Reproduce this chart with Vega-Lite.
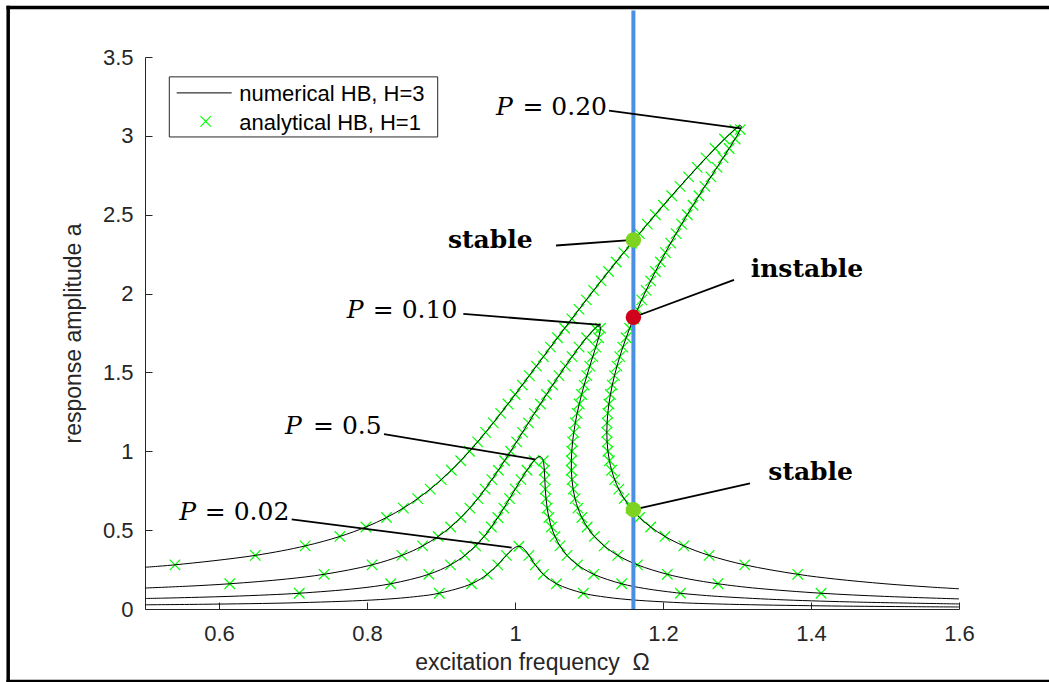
{
  "$schema": "https://vega.github.io/schema/vega-lite/v6.json",
  "width": 814,
  "height": 552,
  "autosize": {"type": "none"},
  "padding": {"left": 145, "top": 57, "right": 90, "bottom": 73},
  "background": "white",
  "config": {"view": {"stroke": null}, "font": "Liberation Sans"},
  "datasets": {
    "frame": [
      {"x1":0.31513,"x2":0.31513,"y1":-0.459,"y2":3.814},
      {"x1":0.31513,"x2":1.8,"y1":3.814,"y2":3.814},
      {"x1":0.31513,"x2":1.8,"y1":-0.459,"y2":-0.459}
    ],
    "boxes": [
      {"kind":"legend","x1":0.53284,"x2":0.89554,"y1":2.993,"y2":3.374}
    ],
    "curves": [
      {"curve":"0.02","order":1,"omega":0.5,"amp":0.02665,"marker":0},
      {"curve":"0.02","order":2,"omega":0.57796,"amp":0.03,"marker":0},
      {"curve":"0.02","order":3,"omega":0.70808,"amp":0.04,"marker":0},
      {"curve":"0.02","order":4,"omega":0.8182,"amp":0.06,"marker":0},
      {"curve":"0.02","order":5,"omega":0.86849,"amp":0.08,"marker":0},
      {"curve":"0.02","order":6,"omega":0.89769,"amp":0.1,"marker":1},
      {"curve":"0.02","order":7,"omega":0.94134,"amp":0.16,"marker":1},
      {"curve":"0.02","order":8,"omega":0.96255,"amp":0.22,"marker":1},
      {"curve":"0.02","order":9,"omega":0.9766,"amp":0.28,"marker":1},
      {"curve":"0.02","order":10,"omega":0.98831,"amp":0.34,"marker":1},
      {"curve":"0.02","order":11,"omega":0.99452,"amp":0.37,"marker":0},
      {"curve":"0.02","order":12,"omega":0.99837,"amp":0.385,"marker":0},
      {"curve":"0.02","order":13,"omega":1.00222,"amp":0.395,"marker":0},
      {"curve":"0.02","order":14,"omega":1.00529,"amp":0.39775,"marker":1},
      {"curve":"0.02","order":15,"omega":1.0082,"amp":0.395,"marker":0},
      {"curve":"0.02","order":16,"omega":1.01143,"amp":0.385,"marker":0},
      {"curve":"0.02","order":17,"omega":1.01438,"amp":0.37,"marker":0},
      {"curve":"0.02","order":18,"omega":1.01886,"amp":0.34,"marker":1},
      {"curve":"0.02","order":19,"omega":1.02738,"amp":0.28,"marker":1},
      {"curve":"0.02","order":20,"omega":1.03839,"amp":0.22,"marker":1},
      {"curve":"0.02","order":21,"omega":1.05604,"amp":0.16,"marker":1},
      {"curve":"0.02","order":22,"omega":1.09231,"amp":0.1,"marker":1},
      {"curve":"0.02","order":23,"omega":1.11543,"amp":0.08,"marker":0},
      {"curve":"0.02","order":24,"omega":1.15264,"amp":0.06,"marker":0},
      {"curve":"0.02","order":25,"omega":1.22326,"amp":0.04,"marker":0},
      {"curve":"0.02","order":26,"omega":1.28981,"amp":0.03,"marker":0},
      {"curve":"0.02","order":27,"omega":1.41334,"amp":0.02,"marker":0},
      {"curve":"0.02","order":28,"omega":1.52681,"amp":0.015,"marker":0},
      {"curve":"0.02","order":29,"omega":1.6,"amp":0.0128,"marker":0},

      {"curve":"0.05","order":1,"omega":0.5,"amp":0.0666,"marker":0},
      {"curve":"0.05","order":2,"omega":0.53534,"amp":0.07,"marker":0},
      {"curve":"0.05","order":3,"omega":0.61338,"amp":0.08,"marker":0},
      {"curve":"0.05","order":4,"omega":0.66788,"amp":0.09,"marker":0},
      {"curve":"0.05","order":5,"omega":0.70852,"amp":0.1,"marker":1},
      {"curve":"0.05","order":6,"omega":0.78655,"amp":0.13,"marker":0},
      {"curve":"0.05","order":7,"omega":0.83199,"amp":0.16,"marker":1},
      {"curve":"0.05","order":8,"omega":0.88357,"amp":0.22,"marker":1},
      {"curve":"0.05","order":9,"omega":0.91282,"amp":0.28,"marker":1},
      {"curve":"0.05","order":10,"omega":0.93231,"amp":0.34,"marker":1},
      {"curve":"0.05","order":11,"omega":0.94674,"amp":0.4,"marker":1},
      {"curve":"0.05","order":12,"omega":0.95828,"amp":0.46,"marker":1},
      {"curve":"0.05","order":13,"omega":0.96809,"amp":0.52,"marker":1},
      {"curve":"0.05","order":14,"omega":0.97683,"amp":0.58,"marker":1},
      {"curve":"0.05","order":15,"omega":0.98492,"amp":0.64,"marker":1},
      {"curve":"0.05","order":16,"omega":0.99266,"amp":0.7,"marker":1},
      {"curve":"0.05","order":17,"omega":1.00029,"amp":0.76,"marker":1},
      {"curve":"0.05","order":18,"omega":1.00802,"amp":0.82,"marker":1},
      {"curve":"0.05","order":19,"omega":1.01619,"amp":0.88,"marker":1},
      {"curve":"0.05","order":20,"omega":1.02575,"amp":0.94,"marker":1},
      {"curve":"0.05","order":21,"omega":1.02892,"amp":0.955,"marker":0},
      {"curve":"0.05","order":22,"omega":1.03387,"amp":0.967,"marker":0},
      {"curve":"0.05","order":23,"omega":1.03712,"amp":0.955,"marker":0},
      {"curve":"0.05","order":24,"omega":1.03821,"amp":0.94,"marker":1},
      {"curve":"0.05","order":25,"omega":1.03972,"amp":0.88,"marker":1},
      {"curve":"0.05","order":26,"omega":1.04031,"amp":0.82,"marker":1},
      {"curve":"0.05","order":27,"omega":1.04094,"amp":0.76,"marker":1},
      {"curve":"0.05","order":28,"omega":1.04193,"amp":0.7,"marker":1},
      {"curve":"0.05","order":29,"omega":1.04349,"amp":0.64,"marker":1},
      {"curve":"0.05","order":30,"omega":1.04583,"amp":0.58,"marker":1},
      {"curve":"0.05","order":31,"omega":1.04922,"amp":0.52,"marker":1},
      {"curve":"0.05","order":32,"omega":1.05401,"amp":0.46,"marker":1},
      {"curve":"0.05","order":33,"omega":1.06075,"amp":0.4,"marker":1},
      {"curve":"0.05","order":34,"omega":1.07035,"amp":0.34,"marker":1},
      {"curve":"0.05","order":35,"omega":1.08445,"amp":0.28,"marker":1},
      {"curve":"0.05","order":36,"omega":1.10638,"amp":0.22,"marker":1},
      {"curve":"0.05","order":37,"omega":1.14418,"amp":0.16,"marker":1},
      {"curve":"0.05","order":38,"omega":1.17532,"amp":0.13,"marker":0},
      {"curve":"0.05","order":39,"omega":1.22352,"amp":0.1,"marker":1},
      {"curve":"0.05","order":40,"omega":1.24606,"amp":0.09,"marker":0},
      {"curve":"0.05","order":41,"omega":1.27367,"amp":0.08,"marker":0},
      {"curve":"0.05","order":42,"omega":1.35309,"amp":0.06,"marker":0},
      {"curve":"0.05","order":43,"omega":1.4522,"amp":0.045,"marker":0},
      {"curve":"0.05","order":44,"omega":1.6,"amp":0.032,"marker":0},

      {"curve":"0.10","order":1,"omega":0.5,"amp":0.133,"marker":0},
      {"curve":"0.10","order":2,"omega":0.55901,"amp":0.145,"marker":0},
      {"curve":"0.10","order":3,"omega":0.61455,"amp":0.16,"marker":1},
      {"curve":"0.10","order":4,"omega":0.69103,"amp":0.19,"marker":0},
      {"curve":"0.10","order":5,"omega":0.74202,"amp":0.22,"marker":1},
      {"curve":"0.10","order":6,"omega":0.80686,"amp":0.28,"marker":1},
      {"curve":"0.10","order":7,"omega":0.84712,"amp":0.34,"marker":1},
      {"curve":"0.10","order":8,"omega":0.87513,"amp":0.4,"marker":1},
      {"curve":"0.10","order":9,"omega":0.89618,"amp":0.46,"marker":1},
      {"curve":"0.10","order":10,"omega":0.91295,"amp":0.52,"marker":1},
      {"curve":"0.10","order":11,"omega":0.92691,"amp":0.58,"marker":1},
      {"curve":"0.10","order":12,"omega":0.93898,"amp":0.64,"marker":1},
      {"curve":"0.10","order":13,"omega":0.94975,"amp":0.7,"marker":1},
      {"curve":"0.10","order":14,"omega":0.95958,"amp":0.76,"marker":1},
      {"curve":"0.10","order":15,"omega":0.96877,"amp":0.82,"marker":1},
      {"curve":"0.10","order":16,"omega":0.97749,"amp":0.88,"marker":1},
      {"curve":"0.10","order":17,"omega":0.9859,"amp":0.94,"marker":1},
      {"curve":"0.10","order":18,"omega":0.9941,"amp":1.0,"marker":1},
      {"curve":"0.10","order":19,"omega":1.00217,"amp":1.06,"marker":1},
      {"curve":"0.10","order":20,"omega":1.01017,"amp":1.12,"marker":1},
      {"curve":"0.10","order":21,"omega":1.01817,"amp":1.18,"marker":1},
      {"curve":"0.10","order":22,"omega":1.02621,"amp":1.24,"marker":1},
      {"curve":"0.10","order":23,"omega":1.03431,"amp":1.3,"marker":1},
      {"curve":"0.10","order":24,"omega":1.04253,"amp":1.36,"marker":1},
      {"curve":"0.10","order":25,"omega":1.05088,"amp":1.42,"marker":1},
      {"curve":"0.10","order":26,"omega":1.0594,"amp":1.48,"marker":1},
      {"curve":"0.10","order":27,"omega":1.06815,"amp":1.54,"marker":1},
      {"curve":"0.10","order":28,"omega":1.07717,"amp":1.6,"marker":1},
      {"curve":"0.10","order":29,"omega":1.08657,"amp":1.66,"marker":1},
      {"curve":"0.10","order":30,"omega":1.09661,"amp":1.72,"marker":1},
      {"curve":"0.10","order":31,"omega":1.10833,"amp":1.78,"marker":1},
      {"curve":"0.10","order":32,"omega":1.11103,"amp":1.79,"marker":0},
      {"curve":"0.10","order":33,"omega":1.11377,"amp":1.7953,"marker":0},
      {"curve":"0.10","order":34,"omega":1.11523,"amp":1.79,"marker":0},
      {"curve":"0.10","order":35,"omega":1.11551,"amp":1.78,"marker":1},
      {"curve":"0.10","order":36,"omega":1.11298,"amp":1.72,"marker":1},
      {"curve":"0.10","order":37,"omega":1.10914,"amp":1.66,"marker":1},
      {"curve":"0.10","order":38,"omega":1.10508,"amp":1.6,"marker":1},
      {"curve":"0.10","order":39,"omega":1.10105,"amp":1.54,"marker":1},
      {"curve":"0.10","order":40,"omega":1.09715,"amp":1.48,"marker":1},
      {"curve":"0.10","order":41,"omega":1.09344,"amp":1.42,"marker":1},
      {"curve":"0.10","order":42,"omega":1.09,"amp":1.36,"marker":1},
      {"curve":"0.10","order":43,"omega":1.08683,"amp":1.3,"marker":1},
      {"curve":"0.10","order":44,"omega":1.08399,"amp":1.24,"marker":1},
      {"curve":"0.10","order":45,"omega":1.08152,"amp":1.18,"marker":1},
      {"curve":"0.10","order":46,"omega":1.07945,"amp":1.12,"marker":1},
      {"curve":"0.10","order":47,"omega":1.07782,"amp":1.06,"marker":1},
      {"curve":"0.10","order":48,"omega":1.0767,"amp":1.0,"marker":1},
      {"curve":"0.10","order":49,"omega":1.07612,"amp":0.94,"marker":1},
      {"curve":"0.10","order":50,"omega":1.07618,"amp":0.88,"marker":1},
      {"curve":"0.10","order":51,"omega":1.07696,"amp":0.82,"marker":1},
      {"curve":"0.10","order":52,"omega":1.07858,"amp":0.76,"marker":1},
      {"curve":"0.10","order":53,"omega":1.08119,"amp":0.7,"marker":1},
      {"curve":"0.10","order":54,"omega":1.08501,"amp":0.64,"marker":1},
      {"curve":"0.10","order":55,"omega":1.09032,"amp":0.58,"marker":1},
      {"curve":"0.10","order":56,"omega":1.09754,"amp":0.52,"marker":1},
      {"curve":"0.10","order":57,"omega":1.10729,"amp":0.46,"marker":1},
      {"curve":"0.10","order":58,"omega":1.12055,"amp":0.4,"marker":1},
      {"curve":"0.10","order":59,"omega":1.13896,"amp":0.34,"marker":1},
      {"curve":"0.10","order":60,"omega":1.16543,"amp":0.28,"marker":1},
      {"curve":"0.10","order":61,"omega":1.20589,"amp":0.22,"marker":1},
      {"curve":"0.10","order":62,"omega":1.23507,"amp":0.19,"marker":0},
      {"curve":"0.10","order":63,"omega":1.27423,"amp":0.16,"marker":1},
      {"curve":"0.10","order":64,"omega":1.29929,"amp":0.145,"marker":0},
      {"curve":"0.10","order":65,"omega":1.32952,"amp":0.13,"marker":0},
      {"curve":"0.10","order":66,"omega":1.4136,"amp":0.1,"marker":1},
      {"curve":"0.10","order":67,"omega":1.49941,"amp":0.08,"marker":0},
      {"curve":"0.10","order":68,"omega":1.6,"amp":0.064,"marker":0},

      {"curve":"0.20","order":1,"omega":0.5,"amp":0.26467,"marker":0},
      {"curve":"0.20","order":2,"omega":0.54047,"amp":0.28,"marker":1},
      {"curve":"0.20","order":3,"omega":0.6491,"amp":0.34,"marker":1},
      {"curve":"0.20","order":4,"omega":0.71644,"amp":0.4,"marker":1},
      {"curve":"0.20","order":5,"omega":0.76339,"amp":0.46,"marker":1},
      {"curve":"0.20","order":6,"omega":0.79859,"amp":0.52,"marker":1},
      {"curve":"0.20","order":7,"omega":0.82637,"amp":0.58,"marker":1},
      {"curve":"0.20","order":8,"omega":0.84919,"amp":0.64,"marker":1},
      {"curve":"0.20","order":9,"omega":0.86854,"amp":0.7,"marker":1},
      {"curve":"0.20","order":10,"omega":0.88539,"amp":0.76,"marker":1},
      {"curve":"0.20","order":11,"omega":0.9004,"amp":0.82,"marker":1},
      {"curve":"0.20","order":12,"omega":0.91403,"amp":0.88,"marker":1},
      {"curve":"0.20","order":13,"omega":0.92661,"amp":0.94,"marker":1},
      {"curve":"0.20","order":14,"omega":0.93839,"amp":1.0,"marker":1},
      {"curve":"0.20","order":15,"omega":0.94956,"amp":1.06,"marker":1},
      {"curve":"0.20","order":16,"omega":0.96025,"amp":1.12,"marker":1},
      {"curve":"0.20","order":17,"omega":0.97058,"amp":1.18,"marker":1},
      {"curve":"0.20","order":18,"omega":0.98064,"amp":1.24,"marker":1},
      {"curve":"0.20","order":19,"omega":0.9905,"amp":1.3,"marker":1},
      {"curve":"0.20","order":20,"omega":1.00021,"amp":1.36,"marker":1},
      {"curve":"0.20","order":21,"omega":1.00983,"amp":1.42,"marker":1},
      {"curve":"0.20","order":22,"omega":1.01938,"amp":1.48,"marker":1},
      {"curve":"0.20","order":23,"omega":1.02889,"amp":1.54,"marker":1},
      {"curve":"0.20","order":24,"omega":1.03841,"amp":1.6,"marker":1},
      {"curve":"0.20","order":25,"omega":1.04794,"amp":1.66,"marker":1},
      {"curve":"0.20","order":26,"omega":1.05751,"amp":1.72,"marker":1},
      {"curve":"0.20","order":27,"omega":1.06712,"amp":1.78,"marker":1},
      {"curve":"0.20","order":28,"omega":1.0768,"amp":1.84,"marker":1},
      {"curve":"0.20","order":29,"omega":1.08655,"amp":1.9,"marker":1},
      {"curve":"0.20","order":30,"omega":1.09638,"amp":1.96,"marker":1},
      {"curve":"0.20","order":31,"omega":1.10631,"amp":2.02,"marker":1},
      {"curve":"0.20","order":32,"omega":1.11633,"amp":2.08,"marker":1},
      {"curve":"0.20","order":33,"omega":1.12645,"amp":2.14,"marker":1},
      {"curve":"0.20","order":34,"omega":1.13668,"amp":2.2,"marker":1},
      {"curve":"0.20","order":35,"omega":1.14703,"amp":2.26,"marker":1},
      {"curve":"0.20","order":36,"omega":1.15749,"amp":2.32,"marker":1},
      {"curve":"0.20","order":37,"omega":1.16808,"amp":2.38,"marker":1},
      {"curve":"0.20","order":38,"omega":1.17879,"amp":2.44,"marker":1},
      {"curve":"0.20","order":39,"omega":1.18964,"amp":2.5,"marker":1},
      {"curve":"0.20","order":40,"omega":1.20063,"amp":2.56,"marker":1},
      {"curve":"0.20","order":41,"omega":1.21177,"amp":2.62,"marker":1},
      {"curve":"0.20","order":42,"omega":1.22307,"amp":2.68,"marker":1},
      {"curve":"0.20","order":43,"omega":1.23455,"amp":2.74,"marker":1},
      {"curve":"0.20","order":44,"omega":1.24623,"amp":2.8,"marker":1},
      {"curve":"0.20","order":45,"omega":1.25814,"amp":2.86,"marker":1},
      {"curve":"0.20","order":46,"omega":1.27038,"amp":2.92,"marker":1},
      {"curve":"0.20","order":47,"omega":1.28309,"amp":2.98,"marker":1},
      {"curve":"0.20","order":48,"omega":1.29693,"amp":3.04,"marker":1},
      {"curve":"0.20","order":49,"omega":1.30261,"amp":3.06,"marker":0},
      {"curve":"0.20","order":50,"omega":1.30499,"amp":3.0643,"marker":0},
      {"curve":"0.20","order":51,"omega":1.30585,"amp":3.06,"marker":0},
      {"curve":"0.20","order":52,"omega":1.3045,"amp":3.04,"marker":1},
      {"curve":"0.20","order":53,"omega":1.2974,"amp":2.98,"marker":1},
      {"curve":"0.20","order":54,"omega":1.28942,"amp":2.92,"marker":1},
      {"curve":"0.20","order":55,"omega":1.28122,"amp":2.86,"marker":1},
      {"curve":"0.20","order":56,"omega":1.27296,"amp":2.8,"marker":1},
      {"curve":"0.20","order":57,"omega":1.26472,"amp":2.74,"marker":1},
      {"curve":"0.20","order":58,"omega":1.25656,"amp":2.68,"marker":1},
      {"curve":"0.20","order":59,"omega":1.24851,"amp":2.62,"marker":1},
      {"curve":"0.20","order":60,"omega":1.24057,"amp":2.56,"marker":1},
      {"curve":"0.20","order":61,"omega":1.23278,"amp":2.5,"marker":1},
      {"curve":"0.20","order":62,"omega":1.22515,"amp":2.44,"marker":1},
      {"curve":"0.20","order":63,"omega":1.21768,"amp":2.38,"marker":1},
      {"curve":"0.20","order":64,"omega":1.2104,"amp":2.32,"marker":1},
      {"curve":"0.20","order":65,"omega":1.20331,"amp":2.26,"marker":1},
      {"curve":"0.20","order":66,"omega":1.19643,"amp":2.2,"marker":1},
      {"curve":"0.20","order":67,"omega":1.18977,"amp":2.14,"marker":1},
      {"curve":"0.20","order":68,"omega":1.18333,"amp":2.08,"marker":1},
      {"curve":"0.20","order":69,"omega":1.17714,"amp":2.02,"marker":1},
      {"curve":"0.20","order":70,"omega":1.17119,"amp":1.96,"marker":1},
      {"curve":"0.20","order":71,"omega":1.16551,"amp":1.9,"marker":1},
      {"curve":"0.20","order":72,"omega":1.16011,"amp":1.84,"marker":1},
      {"curve":"0.20","order":73,"omega":1.155,"amp":1.78,"marker":1},
      {"curve":"0.20","order":74,"omega":1.15019,"amp":1.72,"marker":1},
      {"curve":"0.20","order":75,"omega":1.14572,"amp":1.66,"marker":1},
      {"curve":"0.20","order":76,"omega":1.14158,"amp":1.6,"marker":1},
      {"curve":"0.20","order":77,"omega":1.13781,"amp":1.54,"marker":1},
      {"curve":"0.20","order":78,"omega":1.13443,"amp":1.48,"marker":1},
      {"curve":"0.20","order":79,"omega":1.13147,"amp":1.42,"marker":1},
      {"curve":"0.20","order":80,"omega":1.12894,"amp":1.36,"marker":1},
      {"curve":"0.20","order":81,"omega":1.1269,"amp":1.3,"marker":1},
      {"curve":"0.20","order":82,"omega":1.12538,"amp":1.24,"marker":1},
      {"curve":"0.20","order":83,"omega":1.12442,"amp":1.18,"marker":1},
      {"curve":"0.20","order":84,"omega":1.12409,"amp":1.12,"marker":1},
      {"curve":"0.20","order":85,"omega":1.12445,"amp":1.06,"marker":1},
      {"curve":"0.20","order":86,"omega":1.12558,"amp":1.0,"marker":1},
      {"curve":"0.20","order":87,"omega":1.12758,"amp":0.94,"marker":1},
      {"curve":"0.20","order":88,"omega":1.13058,"amp":0.88,"marker":1},
      {"curve":"0.20","order":89,"omega":1.13474,"amp":0.82,"marker":1},
      {"curve":"0.20","order":90,"omega":1.14028,"amp":0.76,"marker":1},
      {"curve":"0.20","order":91,"omega":1.14745,"amp":0.7,"marker":1},
      {"curve":"0.20","order":92,"omega":1.15664,"amp":0.64,"marker":1},
      {"curve":"0.20","order":93,"omega":1.16836,"amp":0.58,"marker":1},
      {"curve":"0.20","order":94,"omega":1.18335,"amp":0.52,"marker":1},
      {"curve":"0.20","order":95,"omega":1.20269,"amp":0.46,"marker":1},
      {"curve":"0.20","order":96,"omega":1.22809,"amp":0.4,"marker":1},
      {"curve":"0.20","order":97,"omega":1.26234,"amp":0.34,"marker":1},
      {"curve":"0.20","order":98,"omega":1.3104,"amp":0.28,"marker":1},
      {"curve":"0.20","order":99,"omega":1.38206,"amp":0.22,"marker":1},
      {"curve":"0.20","order":100,"omega":1.4328,"amp":0.19,"marker":0},
      {"curve":"0.20","order":101,"omega":1.49989,"amp":0.16,"marker":0},
      {"curve":"0.20","order":102,"omega":1.55818,"amp":0.14,"marker":0},
      {"curve":"0.20","order":103,"omega":1.6,"amp":0.1281,"marker":0}
    ],
    "notes": [
      {"kind":"P","text":"= 0.20","xl":0.97432,"xr":1.12432,"yb":3.1346,"x1":1.127,"y1":3.16,"x2":1.305,"y2":3.047},
      {"kind":"P","text":"= 0.10","xl":0.77257,"xr":0.92203,"yb":1.8457,"x1":0.93014,"y1":1.8711,"x2":1.11581,"y2":1.8013},
      {"kind":"P","text":"= 0.5","xl":0.68919,"xr":0.81986,"yb":1.1124,"x1":0.82297,"y1":1.1092,"x2":1.02703,"y2":0.9486},
      {"kind":"P","text":"= 0.02","xl":0.54635,"xr":0.695,"yb":0.5632,"x1":0.69824,"y1":0.5676,"x2":0.99554,"y2":0.3898},
      {"kind":"W","text":"stable","xl":0.90946,"xr":1.03284,"yb":2.2902,"x1":1.05541,"y1":2.3048,"x2":1.16,"y2":2.34},
      {"kind":"W","text":"instable","xl":1.31851,"xr":1.48108,"yb":2.106,"x1":1.29595,"y1":2.087,"x2":1.16,"y2":1.85},
      {"kind":"W","text":"stable","xl":1.3423,"xr":1.46392,"yb":0.8171,"x1":1.31757,"y1":0.7962,"x2":1.16,"y2":0.63}
    ],
    "dots": [
      {"omega":1.16,"amp":2.34,"state":"stable"},
      {"omega":1.16,"amp":1.85,"state":"instable"},
      {"omega":1.16,"amp":0.63,"state":"stable"}
    ],
    "legend": [
      {"label":"numerical HB, H=3","xs":0.54284,"xe":0.61716,"ys":3.2724,"xt":0.62743,"yt":3.219},
      {"label":"analytical HB, H=1","xs":0.58203,"xe":0.58203,"ys":3.0921,"xt":0.62743,"yt":3.0394}
    ],
    "marker": [
      {"omega":1.16,"lo":0,"hi":3.795}
    ]
  },
  "layer": [
    {
      "data": {"name": "frame"},
      "mark": {"type": "rule", "color": "black", "strokeWidth": 3.5, "strokeCap": "square", "clip": false},
      "encoding": {
        "x": {"field": "x1", "type": "quantitative", "scale": {"domain": [0.5, 1.6], "nice": false, "zero": false},
          "axis": {"title": "excitation frequency\u00a0\u00a0Ω", "values": [0.6, 0.8, 1, 1.2, 1.4, 1.6], "format": "~g", "grid": false,
            "tickSize": -7, "tickColor": "#262626", "domainColor": "#262626", "domainWidth": 1, "labelPadding": 21,
            "labelFont": "Liberation Sans", "labelFontSize": 22, "labelColor": "#262626", "labelFlush": false, "labelOverlap": false,
            "titleFont": "Liberation Sans", "titleFontSize": 23, "titleFontWeight": "normal", "titleColor": "#262626", "titlePadding": 7, "titleX": 387}},
        "x2": {"field": "x2"},
        "y": {"field": "y1", "type": "quantitative", "scale": {"domain": [0, 3.5], "nice": false, "zero": false},
          "axis": {"title": "response amplitude a", "values": [0, 0.5, 1, 1.5, 2, 2.5, 3, 3.5], "format": "~g", "grid": false,
            "tickSize": -7, "tickColor": "#262626", "domainColor": "#262626", "domainWidth": 1, "labelPadding": 19,
            "labelFont": "Liberation Sans", "labelFontSize": 22, "labelColor": "#262626", "labelOverlap": false,
            "titleFont": "Liberation Sans", "titleFontSize": 23, "titleFontWeight": "normal", "titleColor": "#262626", "titlePadding": 17}},
        "y2": {"field": "y2"}
      }
    },
    {
      "data": {"name": "boxes"},
      "mark": {"type": "rect", "fill": "white", "stroke": "#262626", "strokeWidth": 1},
      "encoding": {
        "x": {"field": "x1", "type": "quantitative", "scale": {"domain": [0.5, 1.6], "nice": false, "zero": false}},
        "x2": {"field": "x2"},
        "y": {"field": "y1", "type": "quantitative", "scale": {"domain": [0, 3.5], "nice": false, "zero": false}},
        "y2": {"field": "y2"}
      }
    },
    {
      "data": {"name": "legend"},
      "transform": [{"filter": "datum.xs != datum.xe"}],
      "mark": {"type": "rule", "color": "black", "strokeWidth": 1},
      "encoding": {
        "x": {"field": "xs", "type": "quantitative", "scale": {"domain": [0.5, 1.6], "nice": false, "zero": false}},
        "x2": {"field": "xe"},
        "y": {"field": "ys", "type": "quantitative", "scale": {"domain": [0, 3.5], "nice": false, "zero": false}}
      }
    },
    {
      "data": {"name": "legend"},
      "transform": [{"filter": "datum.xs == datum.xe"}],
      "mark": {"type": "point", "shape": "M-1,-1L1,1M-1,1L1,-1", "filled": false, "color": "#00ff00", "strokeWidth": 1.2, "size": 110, "opacity": 1},
      "encoding": {
        "x": {"field": "xs", "type": "quantitative", "scale": {"domain": [0.5, 1.6], "nice": false, "zero": false}},
        "y": {"field": "ys", "type": "quantitative", "scale": {"domain": [0, 3.5], "nice": false, "zero": false}}
      }
    },
    {
      "data": {"name": "legend"},
      "mark": {"type": "text", "align": "left", "baseline": "alphabetic", "font": "Liberation Sans", "fontSize": 22, "color": "black"},
      "encoding": {
        "x": {"field": "xt", "type": "quantitative", "scale": {"domain": [0.5, 1.6], "nice": false, "zero": false}},
        "y": {"field": "yt", "type": "quantitative", "scale": {"domain": [0, 3.5], "nice": false, "zero": false}},
        "text": {"field": "label"}
      }
    },
    {
      "data": {"name": "curves"},
      "transform": [{"filter": "datum.marker == 1"}],
      "mark": {"type": "point", "shape": "M-1,-1L1,1M-1,1L1,-1", "filled": false, "color": "#00ff00", "strokeWidth": 1.2, "size": 110, "opacity": 1},
      "encoding": {
        "x": {"field": "omega", "type": "quantitative", "scale": {"domain": [0.5, 1.6], "nice": false, "zero": false}},
        "y": {"field": "amp", "type": "quantitative", "scale": {"domain": [0, 3.5], "nice": false, "zero": false}}
      }
    },
    {
      "data": {"name": "curves"},
      "mark": {"type": "line", "color": "black", "strokeWidth": 1, "interpolate": "catmull-rom"},
      "encoding": {
        "x": {"field": "omega", "type": "quantitative", "scale": {"domain": [0.5, 1.6], "nice": false, "zero": false}},
        "y": {"field": "amp", "type": "quantitative", "scale": {"domain": [0, 3.5], "nice": false, "zero": false}},
        "detail": {"field": "curve"},
        "order": {"field": "order", "type": "quantitative"}
      }
    },
    {
      "data": {"name": "marker"},
      "mark": {"type": "rule", "color": "#4a90e2", "strokeWidth": 4, "clip": false},
      "encoding": {
        "x": {"field": "omega", "type": "quantitative", "scale": {"domain": [0.5, 1.6], "nice": false, "zero": false}},
        "y": {"field": "lo", "type": "quantitative", "scale": {"domain": [0, 3.5], "nice": false, "zero": false}},
        "y2": {"field": "hi"}
      }
    },
    {
      "data": {"name": "notes"},
      "mark": {"type": "rule", "color": "black", "strokeWidth": 1.8},
      "encoding": {
        "x": {"field": "x1", "type": "quantitative", "scale": {"domain": [0.5, 1.6], "nice": false, "zero": false}},
        "y": {"field": "y1", "type": "quantitative", "scale": {"domain": [0, 3.5], "nice": false, "zero": false}},
        "x2": {"field": "x2"},
        "y2": {"field": "y2"}
      }
    },
    {
      "data": {"name": "dots"},
      "mark": {"type": "point", "filled": true, "size": 240, "opacity": 1},
      "encoding": {
        "x": {"field": "omega", "type": "quantitative", "scale": {"domain": [0.5, 1.6], "nice": false, "zero": false}},
        "y": {"field": "amp", "type": "quantitative", "scale": {"domain": [0, 3.5], "nice": false, "zero": false}},
        "color": {"field": "state", "type": "nominal", "scale": {"domain": ["stable", "instable"], "range": ["#7ed321", "#d0021b"]}, "legend": null}
      }
    },
    {
      "data": {"name": "notes"},
      "transform": [{"filter": "datum.kind == 'P'"}],
      "mark": {"type": "text", "align": "left", "baseline": "alphabetic", "font": "DejaVu Serif", "fontSize": 25, "fontStyle": "italic", "color": "black"},
      "encoding": {
        "x": {"field": "xl", "type": "quantitative", "scale": {"domain": [0.5, 1.6], "nice": false, "zero": false}},
        "y": {"field": "yb", "type": "quantitative", "scale": {"domain": [0, 3.5], "nice": false, "zero": false}},
        "text": {"value": "P"}
      }
    },
    {
      "data": {"name": "notes"},
      "transform": [{"filter": "datum.kind == 'P'"}],
      "mark": {"type": "text", "align": "right", "baseline": "alphabetic", "font": "DejaVu Serif", "fontSize": 25, "color": "black"},
      "encoding": {
        "x": {"field": "xr", "type": "quantitative", "scale": {"domain": [0.5, 1.6], "nice": false, "zero": false}},
        "y": {"field": "yb", "type": "quantitative", "scale": {"domain": [0, 3.5], "nice": false, "zero": false}},
        "text": {"field": "text"}
      }
    },
    {
      "data": {"name": "notes"},
      "transform": [{"filter": "datum.kind == 'W'"}],
      "mark": {"type": "text", "align": "left", "baseline": "alphabetic", "font": "DejaVu Serif", "fontSize": 25, "fontWeight": "bold", "color": "black"},
      "encoding": {
        "x": {"field": "xl", "type": "quantitative", "scale": {"domain": [0.5, 1.6], "nice": false, "zero": false}},
        "y": {"field": "yb", "type": "quantitative", "scale": {"domain": [0, 3.5], "nice": false, "zero": false}},
        "text": {"field": "text"}
      }
    }
  ]
}
